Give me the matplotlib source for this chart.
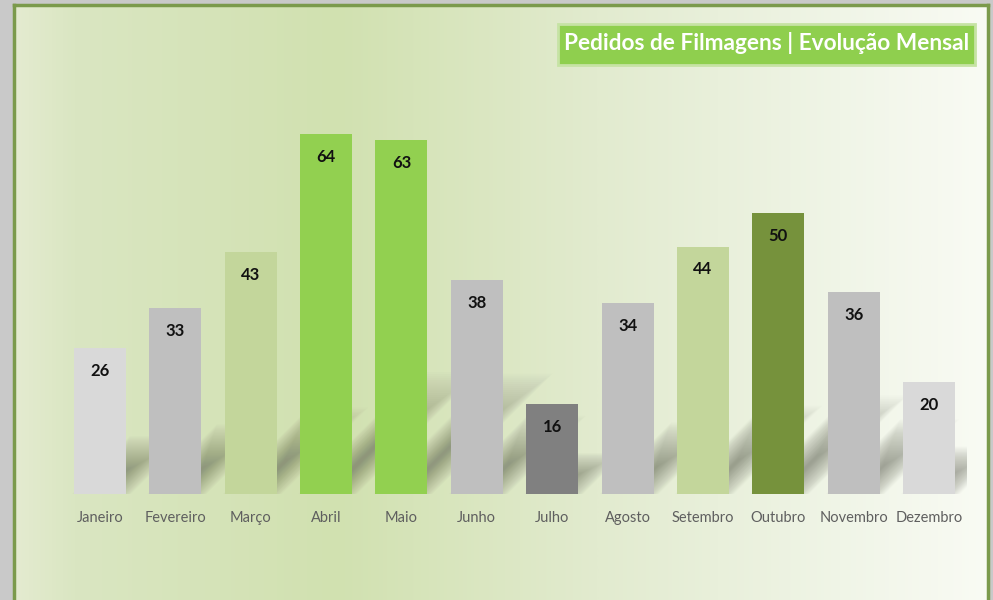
import numpy as np
import matplotlib
matplotlib.use("Agg")
import matplotlib.pyplot as plt
from matplotlib.patches import Polygon, Rectangle
from matplotlib.colors import LinearSegmentedColormap

months = ["Janeiro", "Fevereiro", "Março", "Abril", "Maio", "Junho", "Julho",
          "Agosto", "Setembro", "Outubro", "Novembro", "Dezembro"]
values = [26, 33, 43, 64, 63, 38, 16, 34, 44, 50, 36, 20]
colors = ["#d9d9d9", "#bfbfbf", "#c3d69b", "#92d050", "#92d050", "#bfbfbf",
          "#808080", "#bfbfbf", "#c3d69b", "#76923c", "#bfbfbf", "#d9d9d9"]
title = "Pedidos de Filmagens | Evolução Mensal"

W, H = 993, 600
fig = plt.figure(figsize=(W / 100, H / 100), dpi=100)
fig.patch.set_facecolor("#c9c9c9")

def fx(px):
    return px / W

def fy(py):
    return 1 - py / H

# background panel with gradient
bg = fig.add_axes([fx(14), 0, fx(988) - fx(14), fy(5)])
cmap = LinearSegmentedColormap.from_list(
    "bg", [(0.0, "#e4ebd0"), (0.06, "#dae6c2"), (0.33, "#d1e1b0"),
           (0.6, "#e2ebcf"), (0.85, "#f0f5e7"), (1.0, "#f9fbf4")])
grad = np.linspace(0, 1, 512).reshape(1, -1)
bg.imshow(grad, aspect="auto", cmap=cmap, extent=[0, 1, 0, 1])
bg.set_xlim(0, 1)
bg.set_ylim(0, 1)
bg.set_xticks([])
bg.set_yticks([])
for s in bg.spines.values():
    s.set_color("#7b9a4c")
    s.set_linewidth(2.5)
bg.spines["bottom"].set_visible(False)

# main axes
left_px, right_px = 62.3, 966.7
px_per_unit_y = 5.625
px_per_unit_x = (right_px - left_px) / 12
base_px, top_px = 494, 494 - 70 * px_per_unit_y
ax = fig.add_axes([fx(left_px), fy(base_px), fx(right_px) - fx(left_px),
                   fy(top_px) - fy(base_px)])
ax.set_facecolor("none")
ax.set_xlim(-0.5, 11.5)
ax.set_ylim(0, 70)

x = np.arange(len(values))
bw = 0.69

# shadows: sheared (~45 deg, up-right), soft parallelograms fading upward
n_layers = 36
blur_px = 14.0
shear = px_per_unit_y / px_per_unit_x
for xi, v in zip(x, values):
    h = 0.30 * v                                  # data units
    x0l = xi - bw / 2 + 12 / px_per_unit_x
    x0r = xi + bw / 2 - 9 / px_per_unit_x
    for k in range(n_layers):
        f = k / (n_layers - 1)
        m = blur_px * (1 - 2 * f)
        mx = m / px_per_unit_x
        top = (h + blur_px / px_per_unit_y) * (1 - 0.6 * f)
        xl = x0l - mx
        xr = x0r + mx
        if xr <= xl:
            continue
        pts = [(xl, 0), (xr, 0), (xr + top * shear, top),
               (xl + top * shear, top)]
        ax.add_patch(Polygon(pts, closed=True, facecolor="#55584a",
                             edgecolor="none", alpha=0.015, zorder=1))

ax.bar(x, values, width=bw, color=colors, zorder=2)
for xi, v in zip(x, values):
    ax.text(xi, v - 23 / px_per_unit_y, str(v), ha="center", va="center",
            fontsize=12, fontweight="bold", color="#111111", family="Lato",
            zorder=3)

ax.set_xticks(x)
ax.set_xticklabels(months, fontsize=10.5, color="#5f5f5f", family="Lato")
ax.tick_params(axis="x", length=0, pad=12.5)
ax.set_yticks([])
for s in ax.spines.values():
    s.set_visible(False)

# title box
tb_l, tb_r, tb_t, tb_b = 558, 975, 24, 65
fig.patches.append(Rectangle((fx(tb_l), fy(tb_b)), fx(tb_r) - fx(tb_l),
                             fy(tb_t) - fy(tb_b), transform=fig.transFigure,
                             facecolor="#8fcf4e", edgecolor="#c6e3a4",
                             linewidth=2, zorder=5))
fig.text(fx((tb_l + tb_r) / 2), fy((tb_t + tb_b) / 2) + 0.002, title,
         ha="center", va="center", fontsize=16.3, fontweight="bold",
         color="white", family="Lato", zorder=6)

fig.savefig("out.png", dpi=100, facecolor=fig.get_facecolor())
